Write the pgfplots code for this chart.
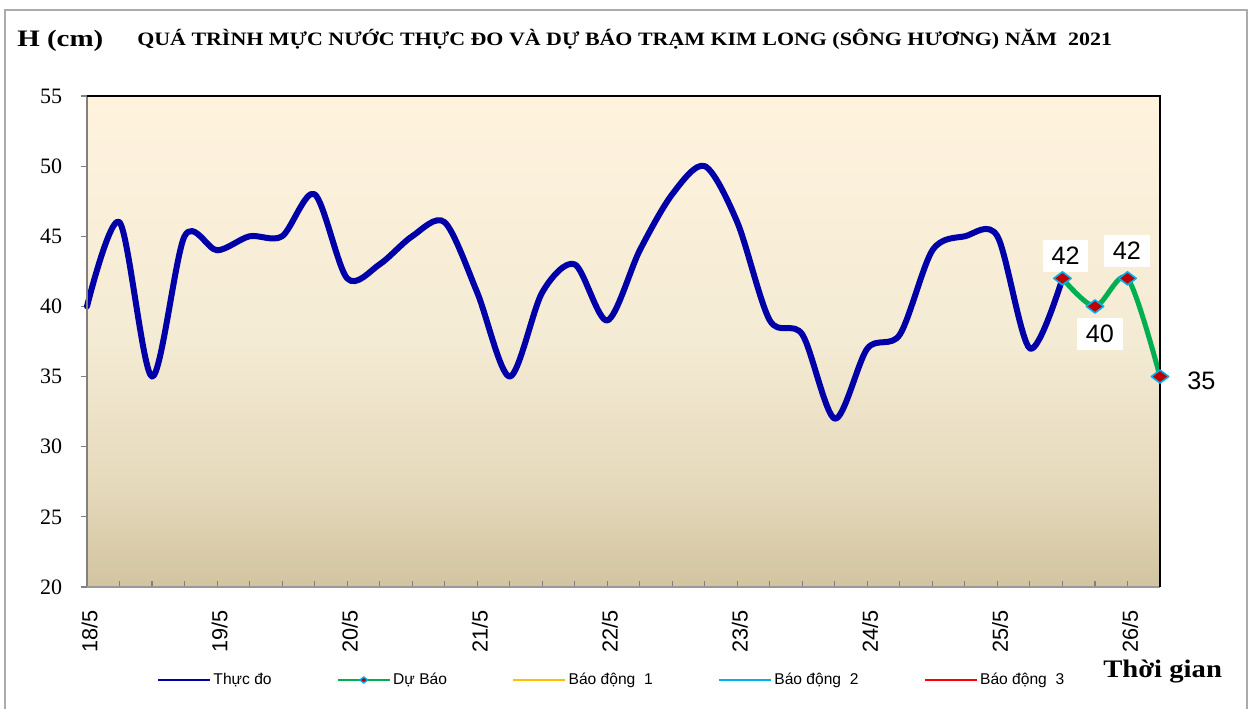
\documentclass[border=0pt]{standalone}
\usepackage{pgfplots}
\pgfplotsset{compat=1.18}
\usepackage{fontspec}
\usepackage{graphicx}
\setmainfont{Liberation Serif}
\newfontfamily\timesf{Liberation Serif}
\newfontfamily\arial{Liberation Sans}
\definecolor{cream}{RGB}{255,243,222}
\definecolor{midA}{RGB}{244,235,212}
\definecolor{midB}{RGB}{229,217,187}
\definecolor{tan}{RGB}{210,196,160}
\definecolor{lineblue}{RGB}{0,0,168}
\definecolor{fgreen}{RGB}{0,176,80}
\definecolor{mred}{RGB}{192,0,0}
\definecolor{mcyan}{RGB}{0,176,240}
\definecolor{aorange}{RGB}{255,192,0}
\definecolor{ared}{RGB}{255,0,0}
\pgfdeclareverticalshading{bgshade}{100bp}{color(0bp)=(tan); color(25bp)=(tan); color(35bp)=(midB); color(50bp)=(midA); color(75bp)=(cream); color(100bp)=(cream)}
\pgfplotsset{
  legline/.style={legend image code/.code={\draw[##1] (0pt,0pt) -- (39pt,0pt);}},
  legmark/.style={legend image code/.code={\draw[mark repeat=2,mark phase=2,##1] plot coordinates {(0pt,0pt) (19.5pt,0pt) (39pt,0pt)};}},
}
\begin{document}
\begin{tikzpicture}
\useasboundingbox (0,0) rectangle (939.75pt,531.75pt);
% outer frame
\draw[gray!65, line width=1.5pt] (3.75pt,-5pt) -- (3.75pt,524.25pt) -- (935.25pt,524.25pt) -- (935.25pt,-5pt);
% titles
\node[anchor=base west, inner sep=0pt, font=\timesf\bfseries\fontsize{17.7}{21}\selectfont] at (12.75pt,496.5pt) {\resizebox{64.5pt}{\height}{H (cm)}};
\node[anchor=base west, inner sep=0pt, font=\timesf\bfseries\fontsize{14.2}{17}\selectfont] at (102.75pt,497.25pt) {\resizebox{731pt}{\height}{QUÁ TRÌNH MỰC NƯỚC THỰC ĐO VÀ DỰ BÁO TRẠM KIM LONG (SÔNG HƯƠNG) NĂM\ \ 2021}};
\node[anchor=base west, inner sep=0pt, font=\timesf\bfseries\fontsize{18.9}{22}\selectfont] at (827.25pt,23.25pt) {\resizebox{89pt}{\height}{Thời gian}};
\begin{axis}[
  at={(65.25pt,91.5pt)}, anchor=south west,
  scale only axis, width=804.75pt, height=368.25pt,
  xmin=0, xmax=33, ymin=20, ymax=55,
  clip=false,
  axis background/.style={shading=bgshade},
  axis line style={draw=none},
  xtick={0,4,...,32},
  xticklabels={18/5,19/5,20/5,21/5,22/5,23/5,24/5,25/5,26/5},
  minor xtick={1,2,...,33},
  ytick={20,25,...,55},
  xtick pos=bottom, ytick pos=left,
  tick align=inside,
  major tick length=4.5pt, minor tick length=4.5pt,
  xtick style={draw=gray, line width=0.8pt},
  minor x tick style={draw=gray, line width=0.8pt},
  ytick style={draw=gray, line width=0.8pt, xshift=-4.5pt},
  /pgf/number format/assume math mode=true,
  yticklabel style={font=\timesf\fontsize{16.5}{19}\selectfont, inner sep=0pt, anchor=east, xshift=-18.4pt},
  xticklabel style={font=\arial\fontsize{16.3}{19}\selectfont, inner sep=0pt, yshift=-17pt, xshift=2pt, rotate=90, anchor=east},
  legend style={at={(axis description cs:0.0652,-0.1894)}, anchor=west, draw=none, fill=none,
    font=\arial\fontsize{11.7}{14}\selectfont, inner sep=0pt,
    /tikz/every even column/.append style={column sep=47pt}},
  legend columns=5,
  legend cell align=left,
]
\addlegendimage{legline, draw=lineblue, line width=1.2pt}
\addlegendentry{Thực đo}
\addlegendimage{legmark, draw=fgreen, line width=1.2pt, mark=diamond*, mark size=3pt, mark options={fill=mred, draw=mcyan, line width=1pt, rotate=90}}
\addlegendentry{Dự Báo}
\addlegendimage{legline, draw=aorange, line width=1.2pt}
\addlegendentry{Báo động\ \ 1}
\addlegendimage{legline, draw=mcyan, line width=1.2pt}
\addlegendentry{Báo động\ \ 2}
\addlegendimage{legline, draw=ared, line width=1.2pt}
\addlegendentry{Báo động\ \ 3}

\addplot[forget plot, lineblue, line width=4.5pt, smooth, tension=0.5, line join=round, line cap=round] coordinates {
(0,40)(1,46)(2,35)(3,45)(4,44)(5,45)(6,45)(7,48)(8,42)(9,43)(10,45)(11,46)(12,41)(13,35)(14,41)(15,43)(16,39)(17,44)(18,48)(19,50)(20,46)(21,39)(22,38)(23,32)(24,37)(25,38)(26,44)(27,45)(28,45)(29,37)(30,42)
};
\addplot[forget plot, fgreen, line width=3.75pt, smooth, tension=0.5, line join=round, mark=diamond*, mark size=6.5pt, mark options={fill=mred, draw=mcyan, line width=1.2pt, rotate=90}] coordinates {
(30,42)(31,40)(32,42)(33,35)
};
\draw[gray, line width=1.5pt] (rel axis cs:0,0) -- (rel axis cs:0,1);
\draw[gray!80, line width=1.5pt] (rel axis cs:0,0) -- (rel axis cs:1,0);
\draw[black, line width=1.5pt] (rel axis cs:0,1) -- (rel axis cs:1,1) -- (rel axis cs:1,0);
\node[fill=white, inner sep=0pt, minimum width=34pt, minimum height=24pt, font=\arial\fontsize{18.9}{22}\selectfont] at (axis cs:30.10,43.58) {42};
\node[fill=white, inner sep=0pt, minimum width=34pt, minimum height=24pt, font=\arial\fontsize{18.9}{22}\selectfont] at (axis cs:31.15,38.02) {40};
\node[fill=white, inner sep=0pt, minimum width=34pt, minimum height=24pt, font=\arial\fontsize{18.9}{22}\selectfont] at (axis cs:31.98,43.94) {42};
\node[anchor=west, inner sep=0pt, font=\arial\fontsize{18.9}{22}\selectfont] at (axis cs:33.83,34.67) {35};
\end{axis}
\end{tikzpicture}
\end{document}
